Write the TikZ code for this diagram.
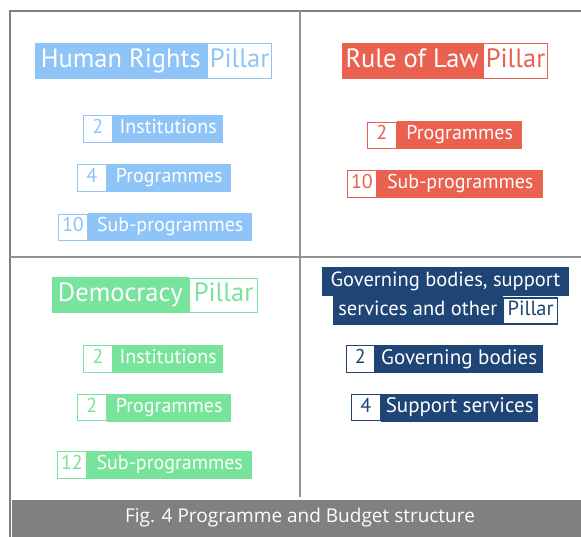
\documentclass[tikz,border=0pt]{standalone}
\usepackage{fontspec}
\setmainfont{PT Sans}
\newfontfamily\capfont{Open Sans}
\usetikzlibrary{positioning}
\definecolor{hrblue}{HTML}{8EC4F8}
\definecolor{rlred}{HTML}{EA6150}
\definecolor{dmgreen}{HTML}{78E39A}
\definecolor{gbnavy}{HTML}{1F4476}
\definecolor{framegray}{HTML}{808080}

\begin{document}
\begin{tikzpicture}[x=1pt,y=-1pt,
    head/.style={fill=#1,text=white,font=\fontsize{26.5}{26.5}\selectfont,minimum height=36pt,
      inner xsep=2pt,inner ysep=0pt,text height=18.5pt,text depth=6pt,anchor=east},
    pil/.style={fill=white,draw=#1,line width=1.2pt,text=#1,font=\fontsize{26.5}{26.5}\selectfont,
      minimum height=34.5pt,minimum width=64pt,inner xsep=1pt,inner ysep=0pt,text height=18.5pt,text depth=6pt},
    item/.style={fill=#1,text=white,font=\fontsize{20}{20}\selectfont,minimum height=28pt,
      inner xsep=2pt,inner ysep=0pt,text height=14pt,text depth=5pt,anchor=west},
    num/.style={fill=white,draw=#1,line width=1.2pt,text=#1,font=\fontsize{20}{20}\selectfont,
      minimum height=26.5pt,minimum width=29pt,inner sep=0pt,text height=14pt,text depth=5pt},
    gov/.style={fill=gbnavy,text=white,font=\fontsize{20.5}{20.5}\selectfont,minimum height=29pt,
      inner xsep=2pt,inner ysep=0pt,text height=15pt,text depth=5pt},
    govitem/.style={item=gbnavy,font=\fontsize{21}{21}\selectfont,text height=15pt,text depth=5pt}]
  \useasboundingbox[fill=white] (0,0) rectangle (581,537);
  \draw[framegray,line width=1.8pt] (10,537)--(10,11)--(581,11);
  \draw[framegray!85,line width=1.3pt] (10,257)--(581,257);
  \draw[framegray!85,line width=1.3pt] (300,11)--(300,497);
  \fill[framegray] (12,500) rectangle (581,537);
  \node[font=\capfont\fontsize{19}{19}\selectfont,text=white] (cap) at (300,518) {Fig. 4 Programme and Budget structure};

  \node[head=hrblue,minimum width=172pt] (hr) at (207,61) {Human Rights};
  \node[pil=hrblue,right=0pt of hr] (hrp) {Pillar};
  \node[item=hrblue,minimum width=110pt] (hri1) at (113,129) {Institutions};
  \node[num=hrblue,left=0pt of hri1] (hrn1) {2};
  \node[item=hrblue,minimum width=124pt] (hri2) at (107,178) {Programmes};
  \node[num=hrblue,left=0pt of hri2] (hrn2) {4};
  \node[item=hrblue,minimum width=164pt] (hri3) at (88,227.5) {Sub-programmes};
  \node[num=hrblue,left=0pt of hri3] (hrn3) {10};

  \node[head=rlred,minimum width=141pt] (rl) at (483,61) {Rule of Law};
  \node[pil=rlred,right=0pt of rl] (rlp) {Pillar};
  \node[item=rlred,minimum width=125pt] (rli1) at (397,135.5) {Programmes};
  \node[num=rlred,left=0pt of rli1] (rln1) {2};
  \node[item=rlred,minimum width=166pt] (rli2) at (377,184) {Sub-programmes};
  \node[num=rlred,left=0pt of rli2] (rln2) {10};

  \node[head=dmgreen,minimum width=137pt] (dm) at (189,295.5) {Democracy};
  \node[pil=dmgreen,minimum width=68pt,right=0pt of dm] (dmp) {Pillar};
  \node[item=dmgreen,minimum width=110pt] (dmi1) at (113,359) {Institutions};
  \node[num=dmgreen,left=0pt of dmi1] (dmn1) {2};
  \node[item=dmgreen,minimum width=124pt] (dmi2) at (107,407.5) {Programmes};
  \node[num=dmgreen,left=0pt of dmi2] (dmn2) {2};
  \node[item=dmgreen,minimum width=165pt] (dmi3) at (87,465) {Sub-programmes};
  \node[num=dmgreen,left=0pt of dmi3] (dmn3) {12};

  \node[gov,minimum width=247pt] (gb1) at (445.5,282) {Governing bodies, support};
  \node[gov,minimum width=170pt,anchor=east] (gb2) at (503,311) {services and other};
  \node[pil=gbnavy,font=\fontsize{20.5}{20.5}\selectfont,minimum width=54pt,minimum height=26pt,
    text height=15pt,text depth=5pt,right=0pt of gb2] (gbp) {Pillar};
  \node[govitem,minimum width=168pt] (gbi1) at (375,359) {Governing bodies};
  \node[num=gbnavy,minimum width=28pt,left=0pt of gbi1] (gbn1) {2};
  \node[govitem,minimum width=157pt] (gbi2) at (381,407.5) {Support services};
  \node[num=gbnavy,left=0pt of gbi2] (gbn2) {4};
\end{tikzpicture}
\end{document}
